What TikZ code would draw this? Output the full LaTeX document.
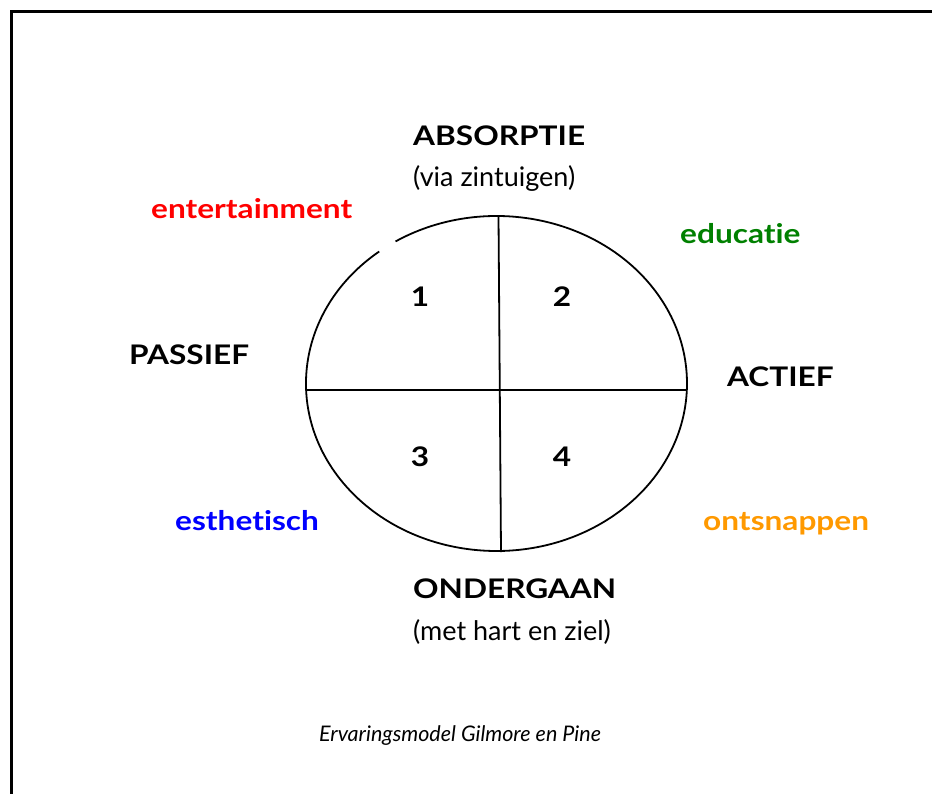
\documentclass[tikz,border=0pt]{standalone}
\usepackage{fontspec}
\setmainfont{Lato}[Ligatures=NoCommon,BoldFeatures={FakeStretch=1.17},BoldItalicFeatures={FakeStretch=1.17}]
\definecolor{cred}{RGB}{255,0,0}
\definecolor{cgreen}{RGB}{0,128,0}
\definecolor{cblue}{RGB}{0,0,255}
\definecolor{corange}{RGB}{255,153,0}
\begin{document}
\begin{tikzpicture}[x=1pt,y=-1pt,
  lab/.style={anchor=base west,inner sep=0pt,font=\fontsize{27}{32}\selectfont\bfseries},
  sub/.style={anchor=base west,inner sep=0pt,font=\fontsize{27}{32}\selectfont},
  num/.style={anchor=base,inner sep=0pt,font=\fontsize{27}{32}\selectfont\bfseries},
  captxt/.style={anchor=base west,inner sep=0pt,font=\fontsize{21.5}{25}\selectfont\itshape}]
\useasboundingbox (0,0) rectangle (932,793);
\draw[line width=2.5pt] (11.5,800) -- (11.5,11.5) -- (940,11.5);
% ellipse with small gap at upper left
\draw[line width=1.8pt] (379.2,251.5) arc[start angle=128,end angle=482,x radius=190.5pt,y radius=167.5pt];
\draw[line width=1.8pt] (498.5,216) -- (501,552);
\draw[line width=1.8pt] (306,390) -- (687,390);
\node[lab] (abs) at (413,145) {ABSORPTIE};
\node[sub] (abss) at (413,186) {(via zintuigen)};
\node[lab,text=cred] (ent) at (151,218) {entertainment};
\node[lab,text=cgreen] (edu) at (680,243) {educatie};
\node[lab] (pas) at (129,364) {PASSIEF};
\node[lab] (act) at (727,386) {ACTIEF};
\node[num] (n1) at (420,306) {1};
\node[num] (n2) at (562,306) {2};
\node[num] (n3) at (420,466) {3};
\node[num] (n4) at (562,466) {4};
\node[lab,text=cblue] (est) at (175,530) {esthetisch};
\node[lab,text=corange] (ont) at (703,530) {ontsnappen};
\node[lab] (ond) at (413,598) {ONDERGAAN};
\node[sub] (onds) at (413,640) {(met hart en ziel)};
\node[captxt] (capt) at (319,741) {Ervaringsmodel Gilmore en Pine};
\end{tikzpicture}
\end{document}
